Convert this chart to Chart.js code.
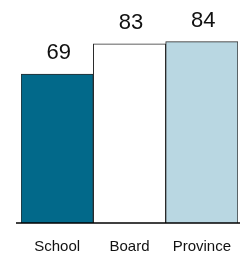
<!DOCTYPE html>
<html>
<head>
<meta charset="utf-8">
<script src="https://cdn.jsdelivr.net/npm/chart.js@4"></script>
<style>
  html, body { margin: 0; padding: 0; background: #fff; }
  #chart { display: block; }
</style>
</head>
<body>
<canvas id="chart" width="240" height="253"></canvas>
<script>
// Chart data
const categories = ['School', 'Board', 'Province'];
const scores = [69, 83, 84];
const barColors = ['#02698a', '#ffffff', '#b9d7e2'];

// Value labels above bars + baseline extending left of the bars
const valueLabels = {
    id: 'valueLabels',
    afterDatasetsDraw(chart) {
        const ctx = chart.ctx;
        const meta = chart.getDatasetMeta(0);
        const yZero = chart.scales.y.getPixelForValue(0);

        ctx.save();
        ctx.strokeStyle = '#000';
        ctx.lineWidth = 1.5;
        ctx.beginPath();
        ctx.moveTo(16, yZero);
        ctx.lineTo(chart.width, yZero);
        ctx.stroke();

        ctx.fillStyle = '#111';
        ctx.font = '22px "Liberation Sans", Arial, sans-serif';
        ctx.textAlign = 'center';
        ctx.textBaseline = 'alphabetic';
        meta.data.forEach((bar, i) => {
            ctx.fillText(String(scores[i]), bar.x + 1.5, bar.y - 15);
        });
        ctx.restore();
    }
};

new Chart(document.getElementById('chart'), {
    type: 'bar',
    data: {
        labels: categories,
        datasets: [{
            data: scores,
            backgroundColor: barColors,
            borderColor: '#2b2b2b',
            borderWidth: 1,
            categoryPercentage: 1,
            barPercentage: 1
        }]
    },
    options: {
        responsive: false,
        animation: false,
        layout: {
            padding: { top: 7, left: 21, right: 2, bottom: -3 }
        },
        plugins: {
            legend: { display: false },
            tooltip: { enabled: false }
        },
        scales: {
            x: {
                // hidden tick marks are used as the gap above the labels
                grid: { display: false, drawTicks: true, tickLength: 15 },
                border: { display: false },
                ticks: {
                    color: '#111',
                    padding: 0,
                    font: { family: '"Liberation Sans", Arial, sans-serif', size: 15 }
                }
            },
            y: {
                display: false,
                min: 0,
                max: 100
            }
        }
    },
    plugins: [valueLabels]
});
</script>
</body>
</html>
